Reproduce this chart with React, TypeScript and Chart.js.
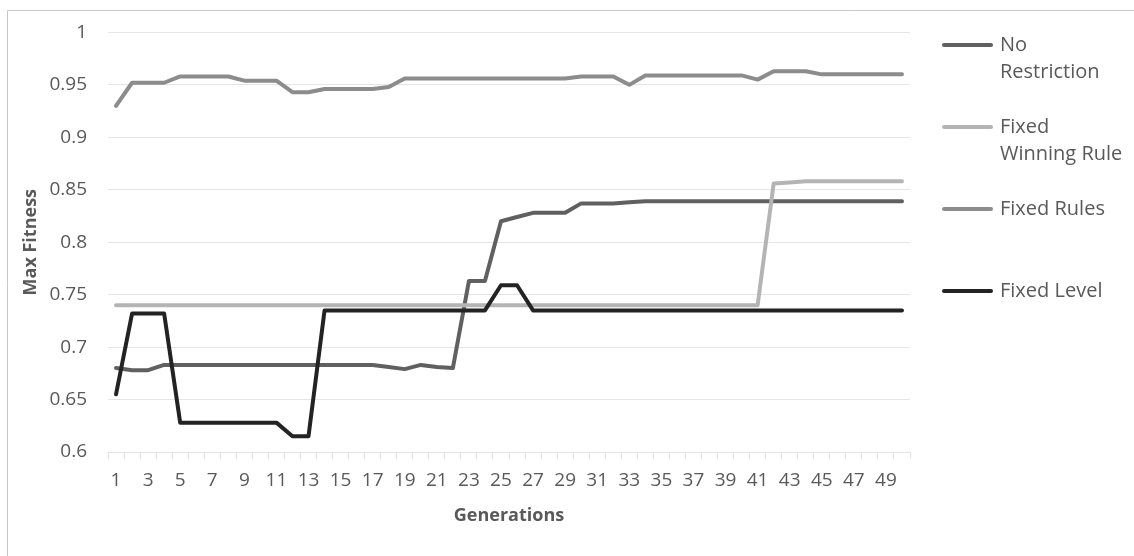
import React, { useEffect, useRef } from "react";
import { Chart, registerables } from "chart.js";

Chart.register(...registerables);

const generations: string[] = [
  "1","2","3","4","5","6","7","8","9","10",
  "11","12","13","14","15","16","17","18","19","20",
  "21","22","23","24","25","26","27","28","29","30",
  "31","32","33","34","35","36","37","38","39","40",
  "41","42","43","44","45","46","47","48","49","50",
];

const noRestriction: number[] = [
  0.680, 0.678, 0.678, 0.683, 0.683, 0.683, 0.683, 0.683, 0.683, 0.683,
  0.683, 0.683, 0.683, 0.683, 0.683, 0.683, 0.683, 0.681, 0.679, 0.683,
  0.681, 0.680, 0.763, 0.763, 0.820, 0.824, 0.828, 0.828, 0.828, 0.837,
  0.837, 0.837, 0.838, 0.839, 0.839, 0.839, 0.839, 0.839, 0.839, 0.839,
  0.839, 0.839, 0.839, 0.839, 0.839, 0.839, 0.839, 0.839, 0.839, 0.839,
];

const fixedWinningRule: number[] = [
  0.740, 0.740, 0.740, 0.740, 0.740, 0.740, 0.740, 0.740, 0.740, 0.740,
  0.740, 0.740, 0.740, 0.740, 0.740, 0.740, 0.740, 0.740, 0.740, 0.740,
  0.740, 0.740, 0.740, 0.740, 0.740, 0.740, 0.740, 0.740, 0.740, 0.740,
  0.740, 0.740, 0.740, 0.740, 0.740, 0.740, 0.740, 0.740, 0.740, 0.740,
  0.740, 0.856, 0.857, 0.858, 0.858, 0.858, 0.858, 0.858, 0.858, 0.858,
];

const fixedRules: number[] = [
  0.930, 0.952, 0.952, 0.952, 0.958, 0.958, 0.958, 0.958, 0.954, 0.954,
  0.954, 0.943, 0.943, 0.946, 0.946, 0.946, 0.946, 0.948, 0.956, 0.956,
  0.956, 0.956, 0.956, 0.956, 0.956, 0.956, 0.956, 0.956, 0.956, 0.958,
  0.958, 0.958, 0.950, 0.959, 0.959, 0.959, 0.959, 0.959, 0.959, 0.959,
  0.955, 0.963, 0.963, 0.963, 0.960, 0.960, 0.960, 0.960, 0.960, 0.960,
];

const fixedLevel: number[] = [
  0.655, 0.732, 0.732, 0.732, 0.628, 0.628, 0.628, 0.628, 0.628, 0.628,
  0.628, 0.615, 0.615, 0.735, 0.735, 0.735, 0.735, 0.735, 0.735, 0.735,
  0.735, 0.735, 0.735, 0.735, 0.759, 0.759, 0.735, 0.735, 0.735, 0.735,
  0.735, 0.735, 0.735, 0.735, 0.735, 0.735, 0.735, 0.735, 0.735, 0.735,
  0.735, 0.735, 0.735, 0.735, 0.735, 0.735, 0.735, 0.735, 0.735, 0.735,
];

const seriesLabels: string[][] = [
  ["No", "Restriction"],
  ["Fixed", "Winning Rule"],
  ["Fixed Rules"],
  ["Fixed Level"],
];
const seriesColors: string[] = ["#606060", "#b4b4b4", "#8c8c8c", "#232323"];

const FONT = "'Open Sans', sans-serif";
const TEXT = "#595959";

const framePlugin = {
  id: "frame",
  beforeDraw(chart: any) {
    const ctx = chart.ctx;
    ctx.save();
    ctx.strokeStyle = "#c8c8c8";
    ctx.lineWidth = 1;
    ctx.beginPath();
    ctx.moveTo(7.5, 556);
    ctx.lineTo(7.5, 10.5);
    ctx.lineTo(1134, 10.5);
    ctx.stroke();
    ctx.restore();
  },
};

const legendPlugin = {
  id: "customLegend",
  afterDraw(chart: any) {
    const ctx = chart.ctx;
    ctx.save();
    const rows = [45, 127, 209, 291];
    chart.data.datasets.forEach((ds: any, i: number) => {
      const y = rows[i];
      ctx.strokeStyle = ds.borderColor;
      ctx.lineWidth = 4;
      ctx.lineCap = "round";
      ctx.beginPath();
      ctx.moveTo(944, y);
      ctx.lineTo(991, y);
      ctx.stroke();
      ctx.fillStyle = TEXT;
      ctx.font = `20px ${FONT}`;
      ctx.textBaseline = "middle";
      ctx.textAlign = "left";
      const lines: string[] = Array.isArray(ds.label) ? ds.label : [ds.label];
      lines.forEach((t, j) => ctx.fillText(t, 1000, y + j * 27));
    });
    ctx.restore();
  },
};

export default function App() {
  const ref = useRef<HTMLCanvasElement | null>(null);

  useEffect(() => {
    if (!ref.current) return;
    const all = [noRestriction, fixedWinningRule, fixedRules, fixedLevel];
    const chart = new Chart(ref.current, {
      type: "line",
      data: {
        labels: generations,
        datasets: all.map((d, i) => ({
          label: seriesLabels[i] as any,
          data: d,
          borderColor: seriesColors[i],
          backgroundColor: seriesColors[i],
          borderWidth: 4,
          pointRadius: 0,
          tension: 0,
          borderCapStyle: "round" as const,
          borderJoinStyle: "round" as const,
          order: 4 - i,
        })),
      },
      options: {
        animation: false,
        responsive: false,
        layout: { padding: { left: 0, right: 224, top: 31, bottom: 0 } },
        plugins: { legend: { display: false }, tooltip: { enabled: false } },
        scales: {
          x: {
            type: "category",
            offset: true,
            afterFit(scale: any) {
              scale.height = 104;
            },
            grid: {
              offset: true,
              drawOnChartArea: false,
              drawTicks: true,
              tickLength: 7,
              color: "#dfe3ea",
            },
            border: { display: true, color: "#dfe3ea" },
            ticks: {
              autoSkip: false,
              maxRotation: 0,
              minRotation: 0,
              padding: 10,
              color: TEXT,
              font: { family: FONT, size: 19 },
              callback: (_v: any, i: number) => (i % 2 === 0 ? generations[i] : ""),
            },
            title: {
              display: true,
              text: "Generations",
              color: TEXT,
              font: { family: FONT, size: 18, weight: "bold" },
              padding: { top: 0, bottom: 29 },
            },
          },
          y: {
            min: 0.6,
            max: 1,
            afterFit(scale: any) {
              scale.width = 108;
            },
            grid: { color: "#e1e5ec", drawTicks: false },
            border: { display: false },
            ticks: {
              stepSize: 0.05,
              padding: 21,
              color: TEXT,
              font: { family: FONT, size: 19 },
              callback: (v: any) => String(Math.round(Number(v) * 100) / 100),
            },
            title: {
              display: true,
              text: "Max Fitness",
              color: TEXT,
              font: { family: FONT, size: 18, weight: "bold" },
              padding: { top: 20, bottom: 0 },
            },
          },
        },
      },
      plugins: [framePlugin, legendPlugin],
    });
    return () => chart.destroy();
  }, []);

  return (
    <div style={{ position: "fixed", left: 0, top: 0, width: 1134, height: 556, background: "#fff" }}>
      <canvas ref={ref} width={1134} height={556} style={{ width: 1134, height: 556, display: "block" }} />
    </div>
  );
}
